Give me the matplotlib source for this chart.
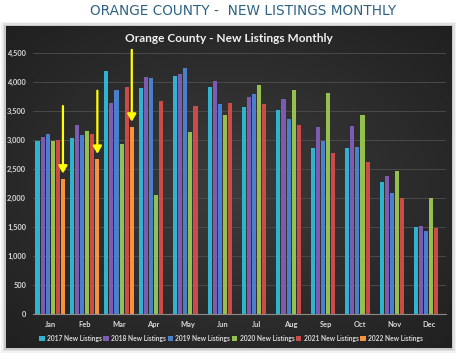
import numpy as np
import matplotlib
matplotlib.use("Agg")
import matplotlib.pyplot as plt
from matplotlib.patches import Patch, FancyBboxPatch
from matplotlib.ticker import FuncFormatter

months = ["Jan", "Feb", "Mar", "Apr", "May", "Jun", "Jul", "Aug", "Sep", "Oct", "Nov", "Dec"]
series_names = ["2017 New Listings", "2018 New Listings", "2019 New Listings",
                "2020 New Listings", "2021 New Listings", "2022 New Listings"]
v2017 = [2990, 3040, 4190, 3895, 4100, 3925, 3570, 3515, 2860, 2860, 2275, 1495]
v2018 = [3055, 3260, 3650, 4085, 4135, 4020, 3745, 3715, 3230, 3245, 2385, 1525]
v2019 = [3110, 3090, 3870, 4070, 4245, 3625, 3790, 3365, 2980, 2880, 2085, 1440]
v2020 = [2990, 3160, 2935, 2050, 3140, 3430, 3955, 3860, 3820, 3440, 2470, 2000]
v2021 = [3005, 3110, 3920, 3675, 3595, 3635, 3625, 3270, 2785, 2620, 2000, 1490]
v2022 = [2330, 2670, 3225]
arrow_tops = [3590, 3855, 4560]
series = [v2017, v2018, v2019, v2020, v2021, v2022]
colors = ["#2fb3d0", "#7e5bb3", "#4a7fcb", "#95bf4f", "#cc4a47", "#f7923e"]

FONT = "Lato"
W, H = 460, 355
fig = plt.figure(figsize=(W / 100, H / 100), dpi=100)
fig.patch.set_facecolor("white")

# page title
fig.text(243 / W, 1 - 11 / H, "ORANGE COUNTY -  NEW LISTINGS MONTHLY", ha="center", va="center",
         fontsize=9.8, color="#2d6282", family="DejaVu Sans")

# drop shadow + dark panel with radial gradient
px0, py0, pw, ph = 6 / W, 1 - 348 / H, 446 / W, 322 / H
for k, a in enumerate([0.05, 0.07, 0.1]):
    d = (3 - k) * 1.5
    fig.patches.append(FancyBboxPatch((px0 - d / W, py0 - d / H), pw + 2 * d / W, ph + 2 * d / H,
                                      boxstyle="square,pad=0", transform=fig.transFigure,
                                      facecolor="black", edgecolor="none", alpha=a, zorder=0))
bg = fig.add_axes([px0, py0, pw, ph], zorder=1)
yy, xx = np.mgrid[-1:1:200j, -1:1:300j]
r = np.sqrt(xx ** 2 + yy ** 2)
grad = np.clip(1 - r / 1.4, 0, 1)
img = np.zeros((200, 300, 3))
lo, hi = np.array([0x20, 0x20, 0x20]) / 255, np.array([0x3c, 0x3c, 0x3c]) / 255
img[:] = lo + (hi - lo) * grad[..., None]
bg.imshow(img, aspect="auto", extent=[0, 1, 0, 1])
bg.set_axis_off()

bg.text(0.5, 1 - (38 - 26) / 322, "Orange County - New Listings Monthly", transform=bg.transAxes,
        ha="center", va="center", fontsize=8.6, color="#f0f0f0", family=FONT, weight="bold")

ax = fig.add_axes([33 / W, 1 - 314 / H, 413 / W, (314 - 53.3) / H], zorder=2)
ax.set_facecolor("none")
x = np.arange(len(months))
slot = 0.148
width = 0.118
for i, (vals, name, c) in enumerate(zip(series, series_names, colors)):
    xs = x[:len(vals)] + (i - 2.5) * slot
    ax.bar(xs, vals, width=width, color=c, label=name, zorder=3)

for j, top in enumerate(arrow_tops):
    xa = x[j] + 2.5 * slot
    ax.annotate("", xy=(xa, v2022[j] + 95), xytext=(xa, top),
                arrowprops=dict(arrowstyle="-|>,head_length=0.55,head_width=0.32", color="#ffff00",
                                lw=1.6, mutation_scale=8, shrinkA=0, shrinkB=0),
                annotation_clip=False, zorder=5)

ax.set_xlim(-0.5, 11.5)
ax.set_ylim(0, 4500)
ax.set_yticks(np.arange(0, 4501, 500))
ax.yaxis.set_major_formatter(FuncFormatter(lambda v, p: f"{int(v):,}"))
ax.set_xticks(x)
ax.set_xticklabels(months)
ax.grid(axis="y", color="#4a4a4a", lw=0.7, zorder=0)
ax.set_axisbelow(True)
for s in ["top", "right", "left"]:
    ax.spines[s].set_visible(False)
ax.spines["bottom"].set_color("#8a8a8a")
ax.spines["bottom"].set_linewidth(0.8)
ax.tick_params(axis="both", length=0, labelsize=5.4, labelcolor="#d8d8d8")
ax.tick_params(axis="y", pad=5)
ax.tick_params(axis="x", pad=5)
for t in ax.get_xticklabels() + ax.get_yticklabels():
    t.set_fontweight("bold")
    t.set_family(FONT)

handles = [Patch(facecolor=c, label=n) for c, n in zip(colors, series_names)]
leg = fig.legend(handles=handles, loc="center", bbox_to_anchor=(231 / W, 1 - 338 / H), ncol=6,
                 frameon=False, prop=dict(family=FONT, size=4.8, weight="bold"),
                 handlelength=0.8, handleheight=0.8,
                 handletextpad=0.35, columnspacing=0.25, borderaxespad=0)
for t in leg.get_texts():
    t.set_color("#d8d8d8")
leg.set_zorder(6)

fig.savefig("out.png", dpi=100, facecolor="white")
